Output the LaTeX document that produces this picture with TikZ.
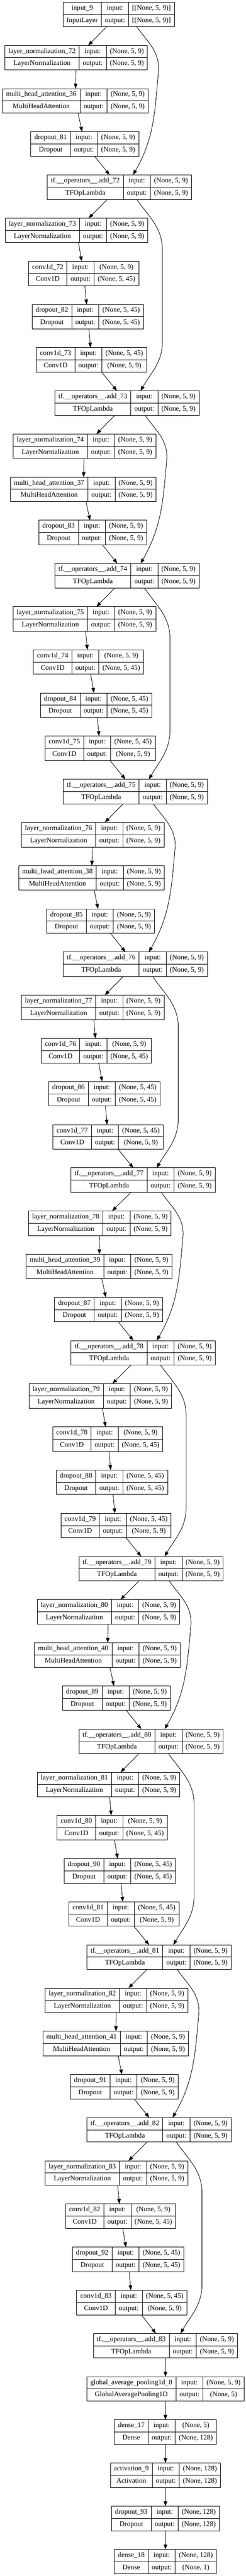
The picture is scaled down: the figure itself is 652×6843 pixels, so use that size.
\documentclass[tikz,border=0pt]{standalone}
\usepackage{fontspec}
\setmainfont{Liberation Serif}
\usetikzlibrary{arrows.meta, calc}

\newdimen\lenA \newdimen\lenB \newdimen\lenC \newdimen\lenD \newdimen\lenE
\newcommand{\lfont}{\fontsize{18.67bp}{22bp}\selectfont}
\newcommand{\shA}{(None, 5, 9)}
\newcommand{\shB}{(None, 5, 45)}

\tikzset{
    layer/.style={draw, line width=1.2bp, minimum height=65bp, inner sep=0pt, outer sep=0pt},
    cell/.style={font=\lfont, inner sep=0pt, text height=12.8bp, text depth=4.2bp},
    grid/.style={line width=1.2bp},
    arr/.style={-{Triangle[length=13bp,width=9.5bp]}, line width=1.2bp}
}

% one keras layer: id, x, row, name, type, input shape, output shape
\newcommand{\layer}[7]{%
    \pgfinterruptpicture
        \setbox0=\hbox{\lfont #4}\global\lenA=\wd0
        \setbox0=\hbox{\lfont #5}\global\lenB=\wd0
        \setbox0=\hbox{\lfont #6}\global\lenC=\wd0
        \setbox0=\hbox{\lfont #7}\global\lenD=\wd0
        \setbox0=\hbox{\lfont output:}\global\lenE=\wd0
    \endpgfinterruptpicture
    \ifdim\lenB>\lenA \lenA=\lenB \fi
    \ifdim\lenD>\lenC \lenC=\lenD \fi
    \advance\lenA by 19bp \advance\lenE by 19bp \advance\lenC by 19bp
    \edef\colA{\the\lenA}\edef\colB{\the\lenE}\edef\colC{\the\lenC}%
    \lenD=\lenA \advance\lenD by \lenE \advance\lenD by \lenC
    \edef\colW{\the\lenD}%
    \node[layer, minimum width=\colW] (#1) at (#2, {-38.5-#3*114.68}) {};
    \draw[grid] ([xshift=\colA]#1.north west) -- ([xshift=\colA]#1.south west);
    \draw[grid] ([xshift=\colA+\colB]#1.north west) -- ([xshift=\colA+\colB]#1.south west);
    \draw[grid] (#1.west) -- (#1.east);
    \node[cell] (#1-name) at ([xshift=\colA/2, yshift=-16.25bp]#1.north west) {#4};
    \node[cell] (#1-type) at ([xshift=\colA/2, yshift=16.25bp]#1.south west) {#5};
    \node[cell] (#1-inl) at ([xshift=\colA+\colB/2, yshift=-16.25bp]#1.north west) {input:};
    \node[cell] (#1-outl) at ([xshift=\colA+\colB/2, yshift=16.25bp]#1.south west) {output:};
    \node[cell] (#1-in) at ([xshift=-\colC/2, yshift=-16.25bp]#1.north east) {#6};
    \node[cell] (#1-out) at ([xshift=-\colC/2, yshift=16.25bp]#1.south east) {#7};
}
\newcommand{\lnorm}[4]{\layer{#1}{#2}{#3}{layer\_normalization\_#4}{LayerNormalization}{\shA}{\shA}}
\newcommand{\mha}[4]{\layer{#1}{#2}{#3}{multi\_head\_attention\_#4}{MultiHeadAttention}{\shA}{\shA}}
\newcommand{\drop}[5]{\layer{#1}{#2}{#3}{dropout\_#4}{Dropout}{#5}{#5}}
\newcommand{\convup}[4]{\layer{#1}{#2}{#3}{conv1d\_#4}{Conv1D}{\shA}{\shB}}
\newcommand{\convdn}[4]{\layer{#1}{#2}{#3}{conv1d\_#4}{Conv1D}{\shB}{\shA}}
\newcommand{\addop}[4]{\layer{#1}{#2}{#3}{tf.\_\_operators\_\_.add\_#4}{TFOpLambda}{\shA}{\shA}}

\begin{document}
\begin{tikzpicture}[x=1bp, y=1bp]
    \fill[white] (0,0) rectangle (652,-6843);
    \useasboundingbox (0,0) rectangle (652,-6843);

    % Input
    \layer{in9}{315}{0}{input\_9}{InputLayer}{[(None, 5, 9)]}{[(None, 5, 9)]}

    % Block 1
    \lnorm{ln72}{202}{1}{72}
    \mha{mha36}{200}{2}{36}
    \drop{dr81}{225}{3}{81}{\shA}
    \addop{add72}{317}{4}{72}
    \lnorm{ln73}{203}{5}{73}
    \convup{cv72}{222}{6}{72}
    \drop{dr82}{233}{7}{82}{\shB}
    \convdn{cv73}{243}{8}{73}
    \addop{add73}{337}{9}{73}

    % Block 2
    \lnorm{ln74}{224}{10}{74}
    \mha{mha37}{221}{11}{37}
    \drop{dr83}{246}{12}{83}{\shA}
    \addop{add74}{337}{13}{74}
    \lnorm{ln75}{224}{14}{75}
    \convup{cv74}{235}{15}{74}
    \drop{dr84}{255}{16}{84}{\shB}
    \convdn{cv75}{266}{17}{75}
    \addop{add75}{359}{18}{75}

    % Block 3
    \lnorm{ln76}{246}{19}{76}
    \mha{mha38}{243}{20}{38}
    \drop{dr85}{267}{21}{85}{\shA}
    \addop{add76}{359}{22}{76}
    \lnorm{ln77}{246}{23}{77}
    \convup{cv76}{256}{24}{76}
    \drop{dr86}{277}{25}{86}{\shB}
    \convdn{cv77}{287}{26}{77}
    \addop{add77}{380}{27}{77}

    % Block 4
    \lnorm{ln78}{265}{28}{78}
    \mha{mha39}{263}{29}{39}
    \drop{dr87}{288}{30}{87}{\shA}
    \addop{add78}{380}{31}{78}
    \lnorm{ln79}{266}{32}{79}
    \convup{cv78}{286}{33}{78}
    \drop{dr88}{297}{34}{88}{\shB}
    \convdn{cv79}{308}{35}{79}
    \addop{add79}{401}{36}{79}

    % Block 5
    \lnorm{ln80}{288}{37}{80}
    \mha{mha40}{285}{38}{40}
    \drop{dr89}{309}{39}{89}{\shA}
    \addop{add80}{401}{40}{80}
    \lnorm{ln81}{288}{41}{81}
    \convup{cv80}{298}{42}{80}
    \drop{dr90}{318}{43}{90}{\shB}
    \convdn{cv81}{329}{44}{81}
    \addop{add81}{422}{45}{81}

    % Block 6
    \lnorm{ln82}{309}{46}{82}
    \mha{mha41}{307}{47}{41}
    \drop{dr91}{330}{48}{91}{\shA}
    \addop{add82}{422}{49}{82}
    \lnorm{ln83}{309}{50}{83}
    \convup{cv82}{320}{51}{82}
    \drop{dr92}{340}{52}{92}{\shB}
    \convdn{cv83}{350}{53}{83}
    \addop{add83}{439}{54}{83}

    % Head
    \layer{gap8}{439}{55}{global\_average\_pooling1d\_8}{GlobalAveragePooling1D}{\shA}{(None, 5)}
    \layer{de17}{439}{56}{dense\_17}{Dense}{(None, 5)}{(None, 128)}
    \layer{act9}{439}{57}{activation\_9}{Activation}{(None, 128)}{(None, 128)}
    \drop{dr93}{439}{58}{93}{(None, 128)}
    \layer{de18}{439}{59}{dense\_18}{Dense}{(None, 128)}{(None, 1)}

    % Main path
    \foreach \a/\b in {in9/ln72, ln72/mha36, mha36/dr81, dr81/add72, add72/ln73, ln73/cv72,
        cv72/dr82, dr82/cv73, cv73/add73, add73/ln74, ln74/mha37, mha37/dr83, dr83/add74,
        add74/ln75, ln75/cv74, cv74/dr84, dr84/cv75, cv75/add75, add75/ln76, ln76/mha38,
        mha38/dr85, dr85/add76, add76/ln77, ln77/cv76, cv76/dr86, dr86/cv77, cv77/add77,
        add77/ln78, ln78/mha39, mha39/dr87, dr87/add78, add78/ln79, ln79/cv78, cv78/dr88,
        dr88/cv79, cv79/add79, add79/ln80, ln80/mha40, mha40/dr89, dr89/add80, add80/ln81,
        ln81/cv80, cv80/dr90, dr90/cv81, cv81/add81, add81/ln82, ln82/mha41, mha41/dr91,
        dr91/add82, add82/ln83, ln83/cv82, cv82/dr92, dr92/cv83, cv83/add83, add83/gap8,
        gap8/de17, de17/act9, act9/dr93, dr93/de18}
        \draw[arr] (\a) -- (\b);

    % Skips round attention
    \foreach \a/\b in {in9/add72, add73/add74, add75/add76, add77/add78, add79/add80, add81/add82}
        \draw[arr] ([xshift=48bp]\a.south) to[out=-55, in=90] ([xshift=106bp, yshift=-112bp]\a.south)
            to[out=-95, in=60] ([xshift=36bp]\b.north);

    % Skips round feed forward
    \foreach \a/\b/\e in {add72/add73/36bp, add74/add75/36bp, add76/add77/36bp,
        add78/add79/36bp, add80/add81/38bp, add82/add83/40bp} {
        \path ([xshift=114bp, yshift=-135bp]\a.south) coordinate (p1)
            ([yshift=131bp]\b.north) coordinate (q1);
        \draw[arr] ([xshift=46bp]\a.south) to[out=-55, in=90] (p1) -- (p1 |- q1)
            to[out=-90, in=60] ([xshift=\e]\b.north);
    }
\end{tikzpicture}
\end{document}
